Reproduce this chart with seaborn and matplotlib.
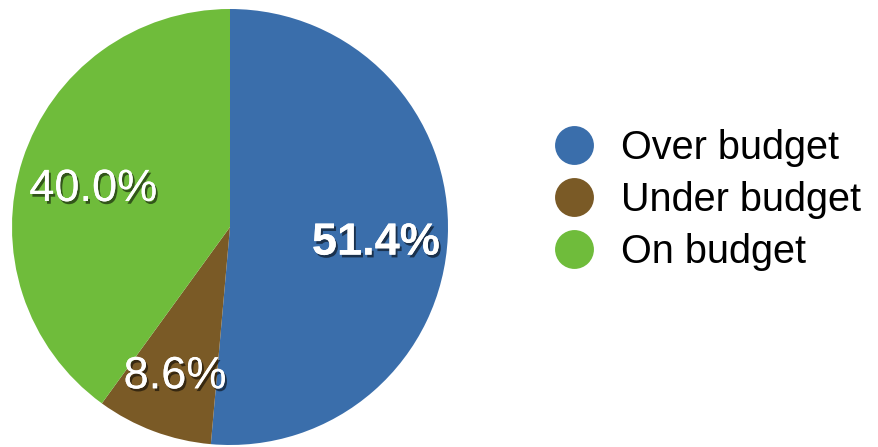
import matplotlib
matplotlib.use("Agg")
import matplotlib.pyplot as plt
import matplotlib.patheffects as pe
from matplotlib.lines import Line2D
import numpy as np
import seaborn as sns

categories = ["Over budget", "Under budget", "On budget"]
values = [51.4, 8.6, 40.0]
colors = ["#3a6eab", "#7a5a26", "#6fbc3b"]

sns.set_theme(style="white")
plt.rcParams["font.family"] = ["Liberation Sans", "DejaVu Sans"]

W, H = 879, 447
fig = plt.figure(figsize=(W / 100, H / 100), dpi=100)
fig.patch.set_facecolor("white")

cx, cy, r = 230, 227, 218
ax = fig.add_axes([(cx - r) / W, (H - cy - r) / H, 2 * r / W, 2 * r / H])
wedges, _ = ax.pie(values, colors=colors, startangle=90, counterclock=False,
                   radius=1, wedgeprops=dict(linewidth=0))
ax.set_xlim(-1, 1)
ax.set_ylim(-1, 1)
ax.set_aspect("equal")
ax.axis("off")

shadow = [pe.withSimplePatchShadow(offset=(1.5, -2), shadow_rgbFace="black", alpha=0.55), pe.Normal()]
dists = [0.67, 0.72, 0.66]
weights = ["bold", "normal", "normal"]
drop = [-7, -2, -5]
for w, v, d, fw, dy in zip(wedges, values, dists, weights, drop):
    ang = np.deg2rad((w.theta1 + w.theta2) / 2)
    ax.annotate(f"{v:.1f}%", (d * np.cos(ang), d * np.sin(ang)), xytext=(0, dy),
                textcoords="offset points", ha="center", va="center",
                color="white", fontsize=32.5, fontweight=fw, path_effects=shadow)

handles = [Line2D([], [], marker="o", linestyle="none", markersize=28,
                  markerfacecolor=c, markeredgewidth=0) for c in colors]
fig.legend(handles, categories, loc="center left", bbox_to_anchor=(550 / W, (H - 200) / H),
           frameon=False, fontsize=28.5, handletextpad=0.6, labelspacing=0.36,
           borderpad=0, borderaxespad=0, handlelength=1.2, labelcolor="black")

fig.savefig("out.png", dpi=100, facecolor="white")
